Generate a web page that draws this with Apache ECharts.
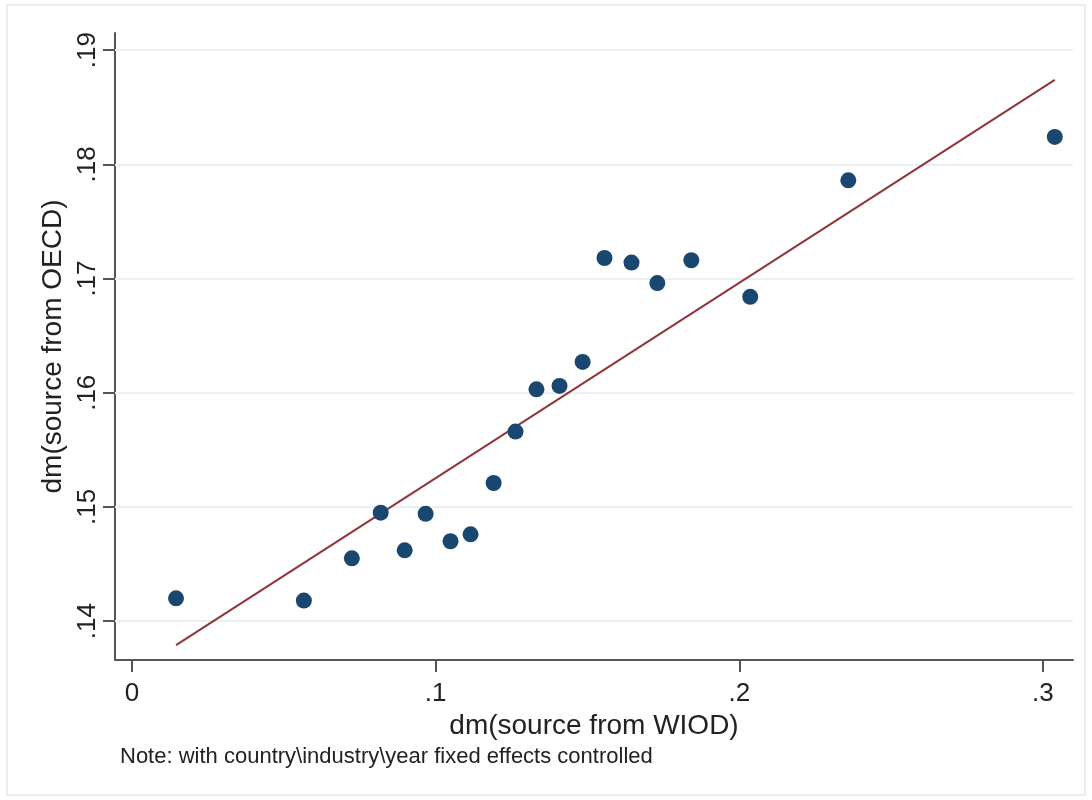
<!DOCTYPE html>
<html>
<head>
<meta charset="utf-8">
<script src="https://cdn.jsdelivr.net/npm/echarts@6/dist/echarts.min.js"></script>
<style>
  html, body { margin: 0; padding: 0; background: #fff; }
  #chart { width: 1092px; height: 800px; }
</style>
</head>
<body>
<div id="chart"></div>
<script>
// binned scatter: dm from WIOD (x) vs dm from OECD (y)
const wiod = [0.0145, 0.0566, 0.0724, 0.0819, 0.0898, 0.0967, 0.1049, 0.1115, 0.1191, 0.1263,
  0.1332, 0.1408, 0.1484, 0.1556, 0.1645, 0.1730, 0.1842, 0.2036, 0.2359, 0.3039]
const oecd = [0.1420, 0.1418, 0.1455, 0.1495, 0.1462, 0.1494, 0.1470, 0.1476, 0.1521, 0.1566,
  0.1603, 0.1606, 0.1627, 0.1718, 0.1714, 0.1696, 0.1716, 0.1684, 0.1786, 0.1824]

// fitted line end points
const fitX = [0.0145, 0.3039]
const fitY = [0.1379, 0.1874]

const xTicks = [0, 0.1, 0.2, 0.3]
const yTicks = [0.14, 0.15, 0.16, 0.17, 0.18, 0.19]

const fmt = v => (Math.abs(v) < 1e-9 ? '0' : String(+v.toFixed(2)).replace(/^0/, ''))

const chart = echarts.init(document.getElementById('chart'))
const font = 'Liberation Sans, Arial, sans-serif'

chart.setOption({
  animation: false,
  backgroundColor: '#fff',
  textStyle: { fontFamily: font },
  grid: { left: 115, right: 19, top: 33, bottom: 140 },
  xAxis: {
    type: 'value',
    min: -0.0056,
    max: 0.3099,
    name: 'dm(source from WIOD)',
    nameLocation: 'middle',
    nameGap: 50,
    nameTextStyle: { fontSize: 28, color: '#222', fontFamily: font },
    axisLine: { show: true, onZero: false, lineStyle: { color: '#555', width: 2 } },
    axisTick: { show: true, length: 12, customValues: xTicks, lineStyle: { color: '#555', width: 2 } },
    axisLabel: { customValues: xTicks, formatter: fmt, fontSize: 26, color: '#222', margin: 21 },
    splitLine: { show: false },
  },
  yAxis: {
    type: 'value',
    min: 0.1366,
    max: 0.1915,
    name: 'dm(source from OECD)',
    nameLocation: 'middle',
    nameRotate: 90,
    nameGap: 44,
    nameTextStyle: { fontSize: 28, color: '#222', fontFamily: font },
    axisLine: { show: true, onZero: false, lineStyle: { color: '#555', width: 2 } },
    axisTick: { show: true, length: 12, customValues: yTicks, lineStyle: { color: '#555', width: 2 } },
    axisLabel: { customValues: yTicks, formatter: fmt, fontSize: 26, color: '#222', rotate: 90, margin: 14 },
    splitLine: { show: false },
  },
  graphic: [
    {
      type: 'rect',
      shape: { x: 7, y: 5, width: 1078, height: 790 },
      style: { fill: 'none', stroke: '#e6eef0', lineWidth: 2 },
      silent: true,
    },
    {
      type: 'text',
      left: 120,
      top: 746,
      style: {
        text: 'Note: with country\\industry\\year fixed effects controlled',
        fontSize: 22,
        fill: '#222',
        fontFamily: font,
      },
    },
  ],
  series: [
    {
      // horizontal grid lines at the y ticks
      type: 'line',
      data: [],
      z: 1,
      markLine: {
        silent: true,
        z: 1,
        symbol: 'none',
        label: { show: false },
        lineStyle: { color: '#e8f0f2', width: 2, type: 'solid' },
        data: yTicks.map(v => ({ yAxis: v })),
      },
    },
    {
      type: 'line',
      data: fitX.map((x, i) => [x, fitY[i]]),
      showSymbol: false,
      lineStyle: { color: '#90353b', width: 2 },
      z: 3,
    },
    {
      type: 'scatter',
      data: wiod.map((x, i) => [x, oecd[i]]),
      symbolSize: 16,
      itemStyle: { color: '#1a476f', opacity: 1 },
      z: 4,
    },
  ],
})
</script>
</body>
</html>
